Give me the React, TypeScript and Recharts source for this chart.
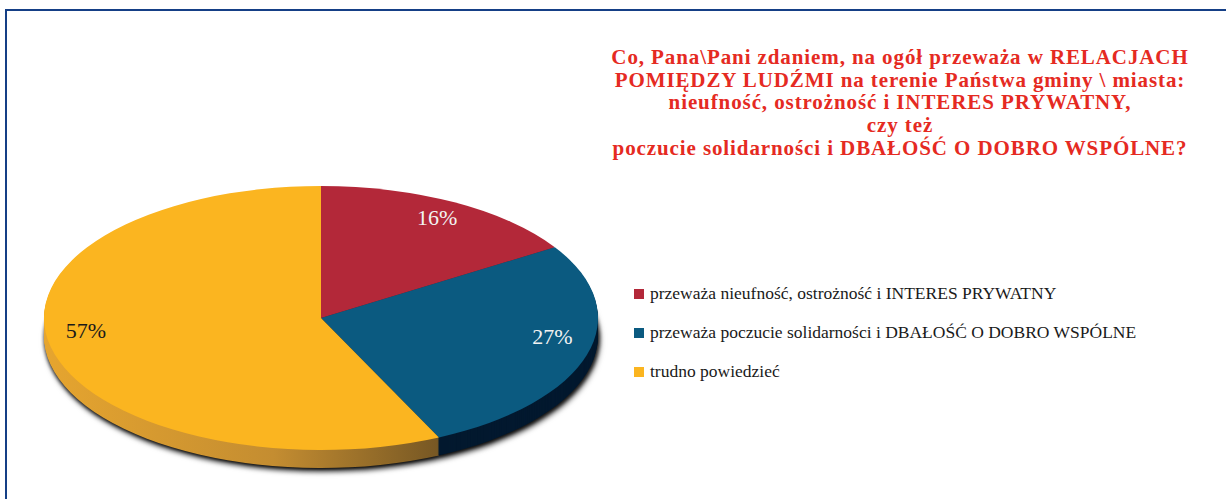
import { PieChart, Pie, Cell, Legend } from 'recharts';

const categories = [
  'przeważa nieufność, ostrożność i INTERES PRYWATNY',
  'przeważa poczucie solidarności i DBAŁOŚĆ O DOBRO WSPÓLNE',
  'trudno powiedzieć',
];
const shares = [16, 27, 57];
const titleLines = [
  'Co, Pana\\Pani zdaniem, na ogół przeważa w RELACJACH',
  'POMIĘDZY LUDŹMI na terenie Państwa gminy \\ miasta:',
  'nieufność, ostrożność i INTERES PRYWATNY,',
  'czy też',
  'poczucie solidarności i DBAŁOŚĆ O DOBRO WSPÓLNE?',
];

const TOP_COLORS = ['#b32839', '#0b5a80', '#fbb520'];
const SIDE_COLORS = ['#6d1822', '#03192f', 'url(#yellowSide)'];
const LABEL_COLORS = ['#f2f2f2', '#f2f2f2', '#1a1a1a'];

// pie geometry: drawn as a circle, squashed into an ellipse with css
const CX = 321;
const CY = 318;
const R = 277;
const TILT = 132 / 277;
const DEPTH = 18;
const RAD = Math.PI / 180;
const SERIF =
  "'Liberation Serif', 'DejaVu Serif', 'Noto Serif', 'Times New Roman', Tinos, Times, serif";

const pieData = categories.map((name, i) => ({ name, value: shares[i] }));
const sideOffsets = Array.from({ length: DEPTH }, (_, i) => DEPTH - i);

const css = `
.pie3d .recharts-sector {
  transform-box: view-box;
  transform-origin: 0px ${CY}px;
  transform: scaleY(${TILT});
}
.pie3d .pie-bottom {
  filter: drop-shadow(1px 3px 2px rgba(0,0,0,0.75));
}
`;

// labels sit a bit above the ellipse centre, like the perspective view
const renderLabel = (props: any) => {
  const { cx, cy, midAngle, outerRadius, value, index } = props;
  const x = cx + outerRadius * 0.87 * Math.cos(-midAngle * RAD);
  const y = cy - 10 + outerRadius * TILT * 0.78 * Math.sin(-midAngle * RAD);
  return (
    <text
      x={x}
      y={y}
      fill={LABEL_COLORS[index]}
      textAnchor="middle"
      dominantBaseline="central"
      fontFamily={SERIF}
      fontSize={22}
    >
      {`${value}%`}
    </text>
  );
};

const renderLegend = () => (
  <div style={{ fontFamily: SERIF, fontSize: 17.5, color: '#1a1a1a' }}>
    {categories.map((c, i) => (
      <div
        key={c}
        style={{ display: 'flex', alignItems: 'center', height: 39 }}
      >
        <span
          style={{
            display: 'inline-block',
            width: 10,
            height: 10,
            background: TOP_COLORS[i],
            marginRight: 6,
          }}
        />
        <span>{c}</span>
      </div>
    ))}
  </div>
);

export default function App() {
  return (
    <div
      className="pie3d"
      style={{
        position: 'absolute',
        left: 0,
        top: 0,
        width: 1226,
        height: 499,
        background: '#fff',
        overflow: 'hidden',
      }}
    >
      <style>{css}</style>
      <div
        style={{
          position: 'absolute',
          left: 5,
          top: 9,
          width: 1221,
          height: 490,
          borderTop: '2px solid #153f86',
          borderLeft: '2px solid #153f86',
        }}
      />
      <div
        style={{
          position: 'absolute',
          left: 560,
          top: 46,
          width: 680,
          textAlign: 'center',
          fontFamily: SERIF,
          fontWeight: 'bold',
          fontSize: 21,
          letterSpacing: '0.9px',
          lineHeight: '22.7px',
          color: '#e52a22',
        }}
      >
        {titleLines.map((l) => (
          <div key={l}>{l}</div>
        ))}
      </div>
      <PieChart
        width={1226}
        height={499}
        margin={{ top: 0, right: 0, bottom: 0, left: 0 }}
        style={{ position: 'absolute', left: 0, top: 0 }}
      >
        <defs>
          <linearGradient
            id="yellowSide"
            gradientUnits="userSpaceOnUse"
            x1={CX - R}
            y1={0}
            x2={CX + 140}
            y2={0}
          >
            <stop offset="0%" stopColor="#e6a52f" />
            <stop offset="55%" stopColor="#c48d31" />
            <stop offset="100%" stopColor="#6c5022" />
          </linearGradient>
        </defs>
        {sideOffsets.map((d) => (
          <Pie
            key={`side-${d}`}
            className={d === DEPTH ? 'pie-bottom' : undefined}
            data={pieData}
            dataKey="value"
            nameKey="name"
            cx={CX}
            cy={CY + d / TILT}
            outerRadius={R}
            startAngle={90}
            endAngle={-270}
            stroke="none"
            legendType="none"
            isAnimationActive={false}
          >
            {pieData.map((e, i) => (
              <Cell key={e.name} fill={SIDE_COLORS[i]} />
            ))}
          </Pie>
        ))}
        <Pie
          data={pieData}
          dataKey="value"
          nameKey="name"
          cx={CX}
          cy={CY}
          outerRadius={R}
          startAngle={90}
          endAngle={-270}
          stroke="none"
          label={renderLabel}
          labelLine={false}
          isAnimationActive={false}
        >
          {pieData.map((e, i) => (
            <Cell key={e.name} fill={TOP_COLORS[i]} />
          ))}
        </Pie>
        <Legend
          content={renderLegend}
          wrapperStyle={{ left: 634, top: 274, width: 590 }}
        />
      </PieChart>
    </div>
  );
}
